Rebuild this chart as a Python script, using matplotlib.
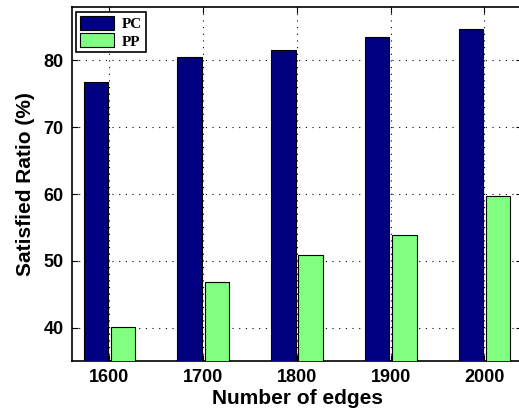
import numpy as np
import matplotlib.pyplot as plt

edges = ['1600', '1700', '1800', '1900', '2000']
pc_ratio = [76.8, 80.55, 81.5, 83.45, 84.7]
pp_ratio = [40.1, 46.85, 50.9, 53.85, 59.7]

fig = plt.figure(figsize=(5.19, 4.17), dpi=100)
# right spine falls just past the image edge, as in the cropped original
ax = fig.add_axes([72 / 519, 56 / 417, 450 / 519, 354 / 417])

x = np.arange(1, len(edges) + 1)
w = 0.26
ax.bar(x - 0.145, pc_ratio, w, color='#000080', edgecolor='black', linewidth=0.8,
       label='PC', zorder=3)
ax.bar(x + 0.145, pp_ratio, w, color='#80ff80', edgecolor='black', linewidth=0.8,
       label='PP', zorder=3)

ax.set_xlim(0.6, 5.4)
ax.set_ylim(35, 88)
ax.set_xticks(x)
ax.set_xticklabels(edges)
ax.set_yticks([40, 50, 60, 70, 80])
ax.grid(True, color='black', linestyle=(0, (1, 5)), linewidth=0.8, zorder=0)
ax.tick_params(direction='in', top=True, right=True, length=4, labelsize=13, pad=6)
for lab in ax.get_xticklabels() + ax.get_yticklabels():
    lab.set_fontweight('bold')
    lab.set_family('Liberation Sans')
for s in ax.spines.values():
    s.set_linewidth(1.2)

ax.set_xlabel('Number of edges', fontsize=15, fontweight='bold', family='Liberation Sans',
              labelpad=2)
ax.set_ylabel('Satisfied Ratio (%)', fontsize=15, fontweight='bold', family='Liberation Sans',
              labelpad=6)

leg = ax.legend(loc='upper left', bbox_to_anchor=(0.01, 0.985), fancybox=False,
                edgecolor='black', framealpha=1,
                prop={'family': 'Liberation Serif', 'weight': 'bold', 'size': 11},
                handlelength=2.2, handleheight=1.0, borderpad=0.25, labelspacing=0.15,
                handletextpad=0.5, borderaxespad=0)
leg.get_frame().set_linewidth(1.2)

fig.savefig('out.png', dpi=100)
